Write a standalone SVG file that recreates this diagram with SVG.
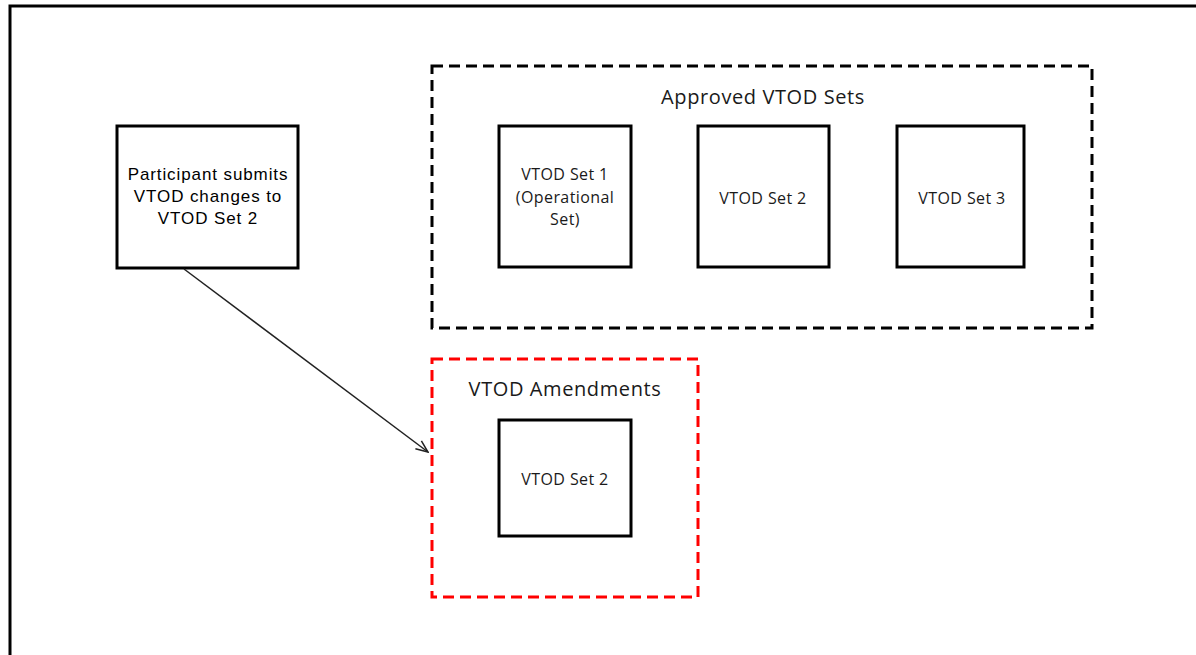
<svg xmlns="http://www.w3.org/2000/svg" width="1196" height="655" viewBox="0 0 1196 655">
<style>
.box{fill:#fff;stroke:#000;stroke-width:3}
.t{font-family:"Open Sans","Liberation Sans",sans-serif;font-size:16px;letter-spacing:0.4px;fill:#1a1a1a;text-anchor:middle}
.tl{font-family:"Open Sans","Liberation Sans",sans-serif;font-size:20px;letter-spacing:0.6px;fill:#1a1a1a;text-anchor:middle}
.tp{font-family:"Liberation Sans",sans-serif;font-size:17px;letter-spacing:0.9px;fill:#000;text-anchor:middle}
</style>
<defs>
<marker id="arr" markerWidth="14" markerHeight="12" refX="13" refY="6" orient="auto" markerUnits="userSpaceOnUse">
<path d="M1,1 L13,6 L1,11" fill="none" stroke="#222" stroke-width="1.5"/>
</marker>
</defs>
<rect width="1196" height="655" fill="#fff"/>
<path d="M10,655 L10,6 L1196,6" fill="none" stroke="#000" stroke-width="3"/>
<g id="approved">
<rect x="432" y="66" width="660" height="262" fill="none" stroke="#000" stroke-width="3" stroke-dasharray="11,6"/>
<text class="tl" x="763" y="104">Approved VTOD Sets</text>
</g>
<g id="amendments">
<rect x="432" y="359" width="266" height="238" fill="none" stroke="#f00" stroke-width="3" stroke-dasharray="11,6"/>
<text class="tl" x="565" y="396">VTOD Amendments</text>
</g>
<g id="participant">
<rect class="box" x="117" y="126" width="181" height="142"/>
<text class="tp" x="208" y="180">Participant submits</text>
<text class="tp" x="208" y="202">VTOD changes to</text>
<text class="tp" x="208" y="224">VTOD Set 2</text>
</g>
<g id="set1">
<rect class="box" x="499" y="126" width="132" height="141"/>
<text class="t" x="565" y="180">VTOD Set 1</text>
<text class="t" x="565" y="203">(Operational</text>
<text class="t" x="565" y="225">Set)</text>
</g>
<g id="set2">
<rect class="box" x="698" y="126" width="131" height="141"/>
<text class="t" x="763" y="204">VTOD Set 2</text>
</g>
<g id="set3">
<rect class="box" x="897" y="126" width="127" height="141"/>
<text class="t" x="962" y="204">VTOD Set 3</text>
</g>
<g id="amend-set2">
<rect class="box" x="499" y="420" width="132" height="116"/>
<text class="t" x="565" y="485">VTOD Set 2</text>
</g>
<g id="connectors">
<line x1="184" y1="269" x2="428" y2="452" stroke="#222" stroke-width="1.5" marker-end="url(#arr)"/>
</g>
</svg>
